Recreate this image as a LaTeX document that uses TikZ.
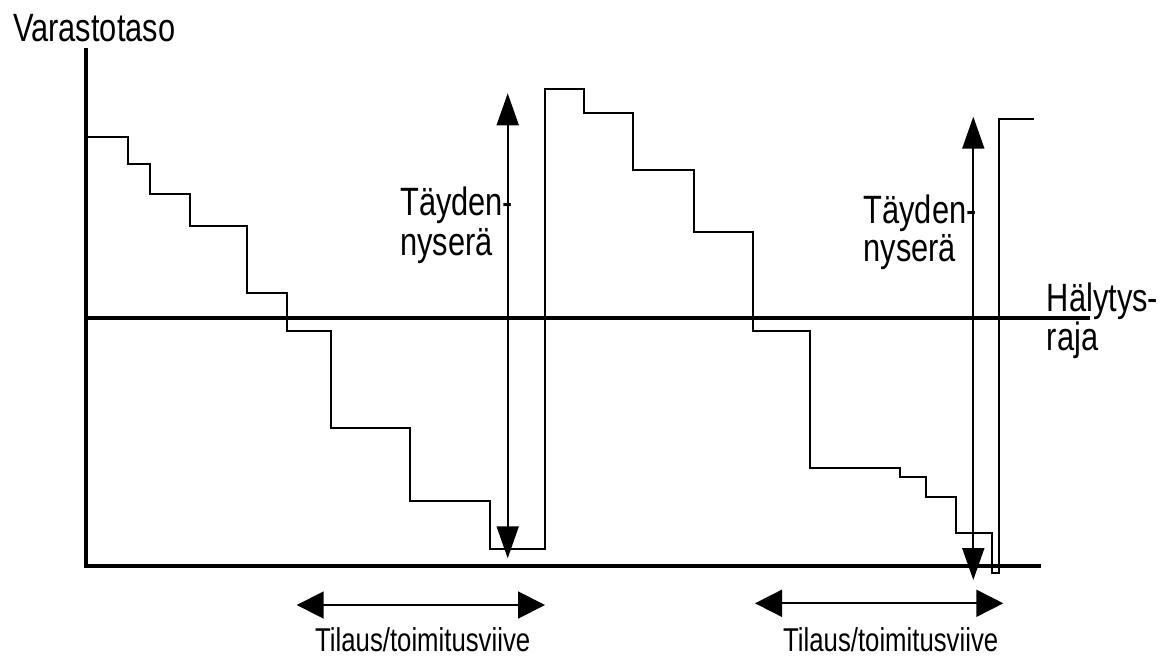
\documentclass[tikz,border=0pt]{standalone}
\usepackage{fontspec}
\setmainfont{Liberation Sans}[FakeStretch=0.78]
\usetikzlibrary{arrows.meta}
\tikzset{
  axis/.style={line width=4pt, line cap=rect},
  level/.style={line width=4pt},
  stock/.style={line width=1.8pt, line join=miter},
  qty/.style={line width=1.8pt, {Triangle[length=32pt,width=22pt]}-{Triangle[length=32pt,width=22pt]}},
  lead/.style={line width=1.8pt, {Triangle[length=27pt,width=27pt]}-{Triangle[length=27pt,width=27pt]}},
  big/.style={inner sep=0pt, anchor=base west, font=\fontsize{39.5}{40}\selectfont},
  small/.style={inner sep=0pt, anchor=base west, font=\fontsize{33}{34}\selectfont},
}
\begin{document}
\begin{tikzpicture}[x=1pt,y=-1pt]
\useasboundingbox (0,0) rectangle (1175,659);
% axes
\coordinate (ytop) at (86,50);
\coordinate (origin) at (86,565.5);
\coordinate (xend) at (1039,565.5);
\coordinate (thl) at (86,317.7);
\coordinate (thr) at (1090,317.7);
\draw[axis] (ytop) -- (origin) -- (xend);
\draw[level] (thl) -- (thr);
% stock level curve
\draw[stock] (88,137.3) -- (128.3,137.3) |- (150,164) |- (190,194.3) |- (247.3,226)
  |- (286.7,293.3) |- (331,330.7) |- (410,427.7) |- (490,500.7) |- (545,548.7)
  |- (584.3,89) |- (633.3,113.3) |- (694.3,170) |- (753.3,232) |- (810,330.7)
  |- (900,467.7) |- (925.7,476.7) |- (956,497) |- (991.7,532.7) |- (999.3,572.7)
  |- (1034.3,119) ;
% replenishment quantity arrows
\coordinate (q1b) at (507.7,558.3);
\coordinate (q1t) at (507.7,93.3);
\coordinate (q2b) at (973.3,580);
\coordinate (q2t) at (973.3,116.7);
\draw[qty] (q1b) -- (q1t);
\draw[qty] (q2b) -- (q2t);
% lead time arrows
\coordinate (l1a) at (296.7,605);
\coordinate (l1b) at (545,605);
\coordinate (l2a) at (755,603.3);
\coordinate (l2b) at (1003.3,603.3);
\draw[lead] (l1a) -- (l1b);
\draw[lead] (l2a) -- (l2b);
% texts
\node[big] (ylab) at (13,41.7) {Varastotaso};
\node[big] (t1a) at (400,215) {Täyden-};
\node[big] (t1b) at (400,255) {nyserä};
\node[big] (t2a) at (863.3,223.3) {Täyden-};
\node[big] (t2b) at (863.3,261.7) {nyserä};
\node[big] (h1) at (1046.7,311.7) {Hälytys-};
\node[big] (h2) at (1046.7,350) {raja};
\node[small] (d1) at (315,651.5) {Tilaus/toimitusviive};
\node[small] (d2) at (783,651) {Tilaus/toimitusviive};
\end{tikzpicture}
\end{document}
